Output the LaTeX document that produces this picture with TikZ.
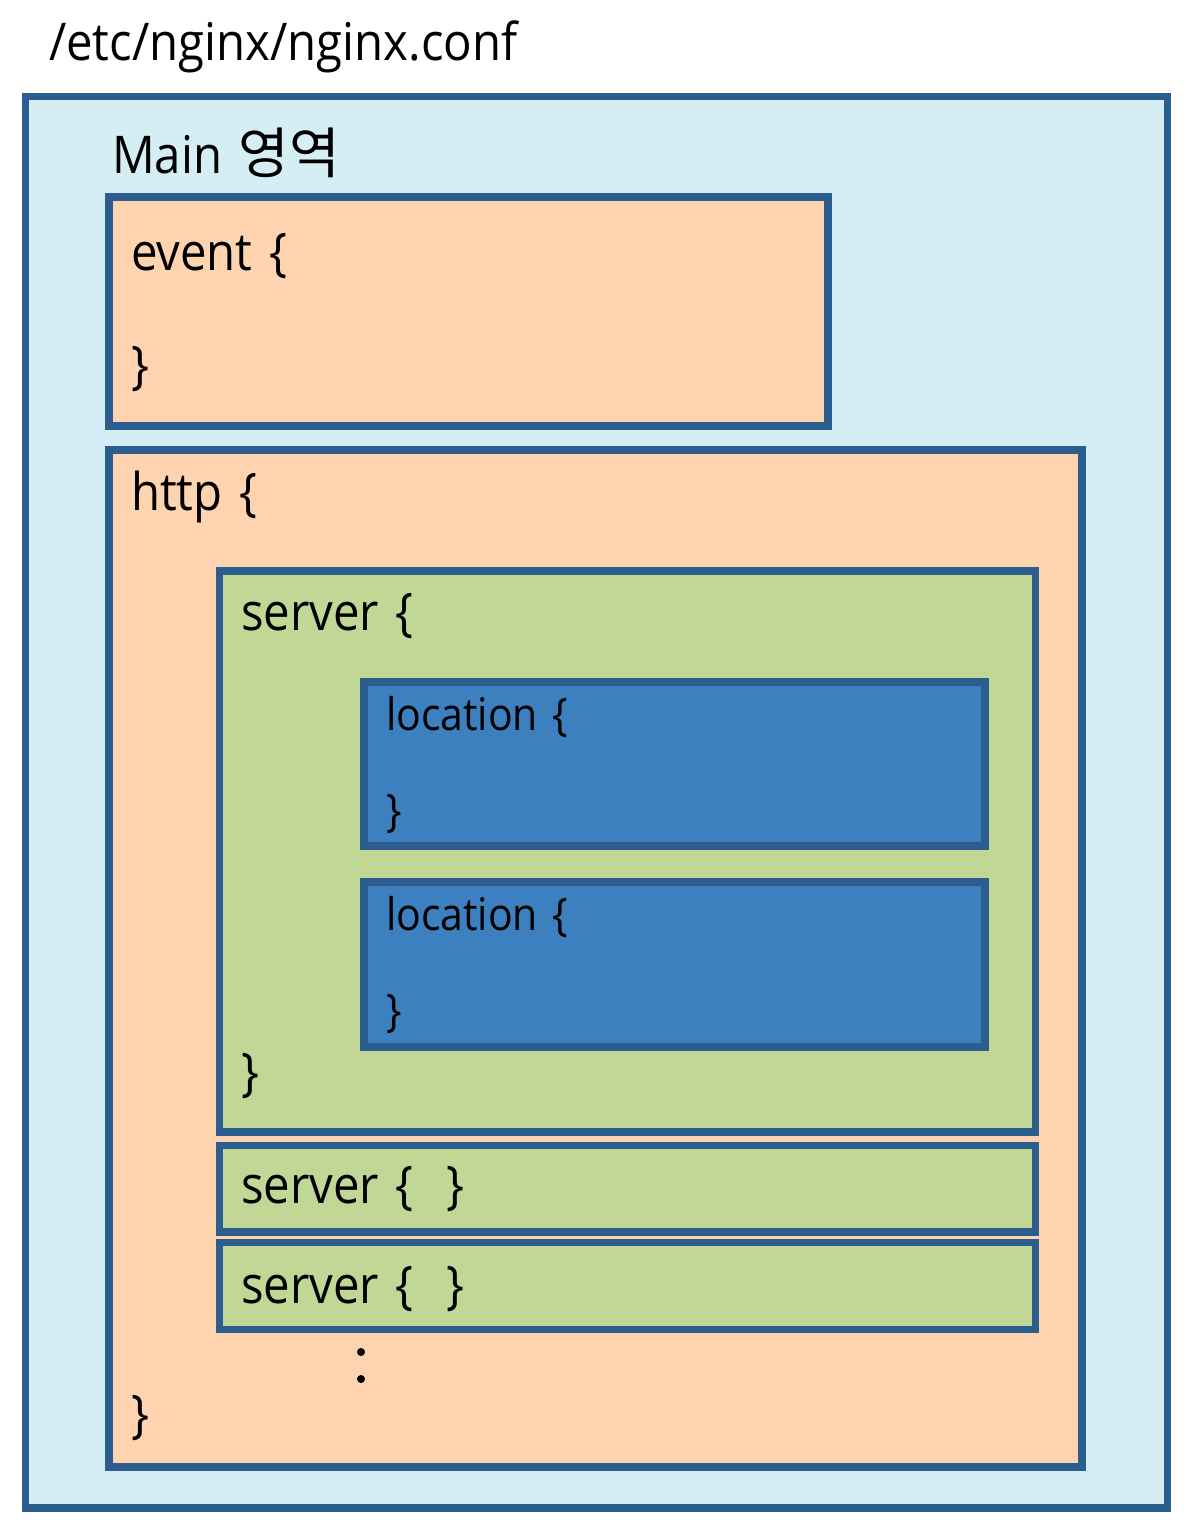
\documentclass[tikz,border=0pt]{standalone}
\usepackage{fontspec}
\setmainfont[FakeStretch=0.91,WordSpace=1.35]{Open Sans}
\newfontfamily\kr[Scale=1.06]{Noto Sans CJK KR}
\definecolor{bd}{HTML}{2B5E8E}
\definecolor{skyfill}{HTML}{D5EDF4}
\definecolor{peach}{HTML}{FED3B0}
\definecolor{leaf}{HTML}{C0D796}
\definecolor{locblue}{HTML}{3C80C0}
\begin{document}
\begin{tikzpicture}[x=0.5pt,y=-0.5pt,
  box/.style={draw=bd, line width=3.6pt, line join=miter, inner sep=0pt, outer sep=0pt, anchor=north west},
  tx/.style={anchor=base west, inner sep=0pt, outer sep=0pt, font=\fontsize{26pt}{30pt}\selectfont},
  txs/.style={tx, font=\fontsize{22.5pt}{26pt}\selectfont}]
\fill[white] (0,0) rectangle (1188,1520);
\useasboundingbox (0,0) rectangle (1188,1520);
% boxes
\node[box, fill=skyfill, minimum width=571pt, minimum height=705.75pt] (outer) at (25.5,96.5) {};
\node[box, fill=peach, minimum width=359.5pt, minimum height=114.5pt] (event) at (109,197) {};
\node[box, fill=peach, minimum width=486.5pt, minimum height=508.5pt] (http) at (109,450) {};
\node[box, fill=leaf, minimum width=408pt, minimum height=280.5pt] (srvA) at (219.5,571) {};
\node[box, fill=locblue, minimum width=310.5pt, minimum height=82pt] (locA) at (364,682) {};
\node[box, fill=locblue, minimum width=310.5pt, minimum height=82.5pt] (locB) at (364,882) {};
\node[box, fill=leaf, minimum width=408pt, minimum height=43.25pt] (srvB) at (219.5,1145.5) {};
\node[box, fill=leaf, minimum width=408pt, minimum height=43.5pt] (srvC) at (219.5,1242.5) {};
% texts
\node[tx] (path) at (49,61) {/etc/nginx/nginx.conf};
\node[tx] (main) at (112,173) {Main {\kr 영역}};
\node[tx] (evo) at (131,270) {event \{};
\node[tx] (evc) at (131,383) {\}};
\node[tx] (hto) at (131,510) {http \{};
\node[tx] (htc) at (131,1432) {\}};
\node[tx] (sao) at (241,630) {server \{};
\node[tx] (sac) at (241,1090) {\}};
\node[txs] (lao) at (386,730) {location \{};
\node[txs] (lac) at (386,826) {\}};
\node[txs] (lbo) at (386,930) {location \{};
\node[txs] (lbc) at (386,1026) {\}};
\node[tx] (sb) at (241,1203) {server \{\ \ \}};
\node[tx] (sc) at (241,1303) {server \{\ \ \}};
\fill (361,1352) circle (4) (361,1379) circle (4);
\end{tikzpicture}
\end{document}
